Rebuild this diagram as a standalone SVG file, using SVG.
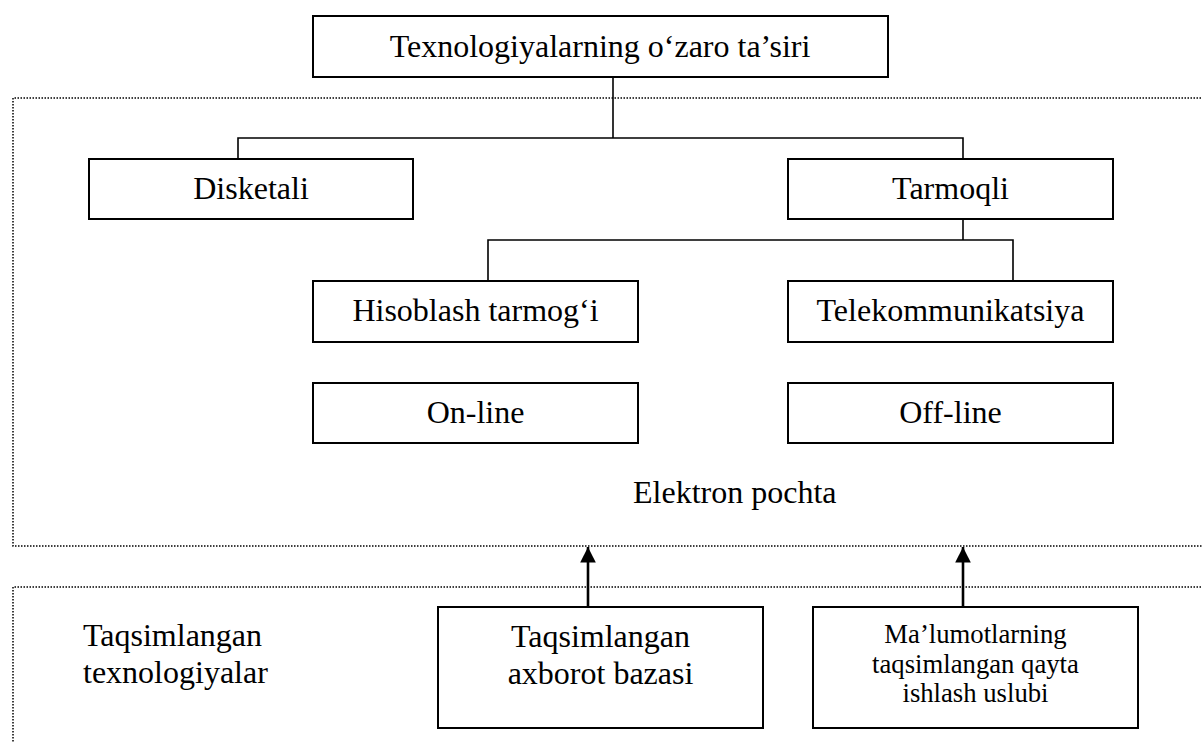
<svg xmlns="http://www.w3.org/2000/svg" width="1202" height="742" viewBox="0 0 1202 742">
  <style>
    .box { fill: #fff; stroke: #000; stroke-width: 2; }
    .frame { fill: none; stroke: #000; stroke-width: 1.5; stroke-dasharray: 1.5 1.5; }
    .link { fill: none; stroke: #000; stroke-width: 1.6; }
    .arrow { fill: none; stroke: #000; stroke-width: 2.6; }
    text { font-family: "Liberation Serif", "Times New Roman", serif; font-size: 32px; fill: #000; }
    .c { text-anchor: middle; }
    .small { font-size: 26.7px; }
  </style>
  <defs>
    <marker id="head" viewBox="0 0 10 10" refX="10" refY="5" markerWidth="6" markerHeight="6" markerUnits="strokeWidth" orient="auto">
      <path d="M0,0 L10,5 L0,10 z" fill="#000"/>
    </marker>
  </defs>
  <rect width="1202" height="742" fill="#fff"/>

  <!-- dotted group frames (run off the right and bottom edges) -->
  <g id="frames">
    <path class="frame" d="M1210,98 H13 V546 H1210"/>
    <path class="frame" d="M1210,587 H13 V750"/>
  </g>

  <!-- connectors -->
  <g id="connectors">
    <path class="link" d="M613,77 V138"/>
    <path class="link" d="M238,159 V138 H963 V159"/>
    <path class="link" d="M963,219 V240"/>
    <path class="link" d="M488,281 V240 H1013 V281"/>
    <path class="arrow" d="M588,607 V547" marker-end="url(#head)"/>
    <path class="arrow" d="M963,607 V547" marker-end="url(#head)"/>
  </g>

  <g id="root">
    <rect class="box" x="313" y="16" width="575" height="61"/>
    <text class="c" x="600" y="57">Texnologiyalarning o‘zaro ta’siri</text>
  </g>
  <g id="disketali">
    <rect class="box" x="89" y="159" width="324" height="60"/>
    <text class="c" x="251" y="199">Disketali</text>
  </g>
  <g id="tarmoqli">
    <rect class="box" x="788" y="159" width="325" height="60"/>
    <text class="c" x="950.5" y="199">Tarmoqli</text>
  </g>
  <g id="hisoblash">
    <rect class="box" x="313" y="281" width="325" height="61"/>
    <text class="c" x="475.5" y="321">Hisoblash tarmog‘i</text>
  </g>
  <g id="telekom">
    <rect class="box" x="788" y="281" width="325" height="61"/>
    <text class="c" x="950.5" y="321">Telekommunikatsiya</text>
  </g>
  <g id="online">
    <rect class="box" x="313" y="383" width="325" height="60"/>
    <text class="c" x="475.5" y="423">On-line</text>
  </g>
  <g id="offline">
    <rect class="box" x="788" y="383" width="325" height="60"/>
    <text class="c" x="950.5" y="423">Off-line</text>
  </g>
  <g id="elektron">
    <text x="633" y="503">Elektron pochta</text>
  </g>
  <g id="taqsim-tex">
    <text x="83" y="646">Taqsimlangan</text>
    <text x="83" y="683">texnologiyalar</text>
  </g>
  <g id="axborot">
    <rect class="box" x="438" y="607" width="325" height="121"/>
    <text class="c" x="600.5" y="647">Taqsimlangan</text>
    <text class="c" x="600.5" y="684">axborot bazasi</text>
  </g>
  <g id="malumot">
    <rect class="box" x="813" y="607" width="325" height="121"/>
    <text class="c small" x="975.5" y="643">Ma’lumotlarning</text>
    <text class="c small" x="975.5" y="673">taqsimlangan qayta</text>
    <text class="c small" x="975.5" y="702">ishlash uslubi</text>
  </g>
</svg>
